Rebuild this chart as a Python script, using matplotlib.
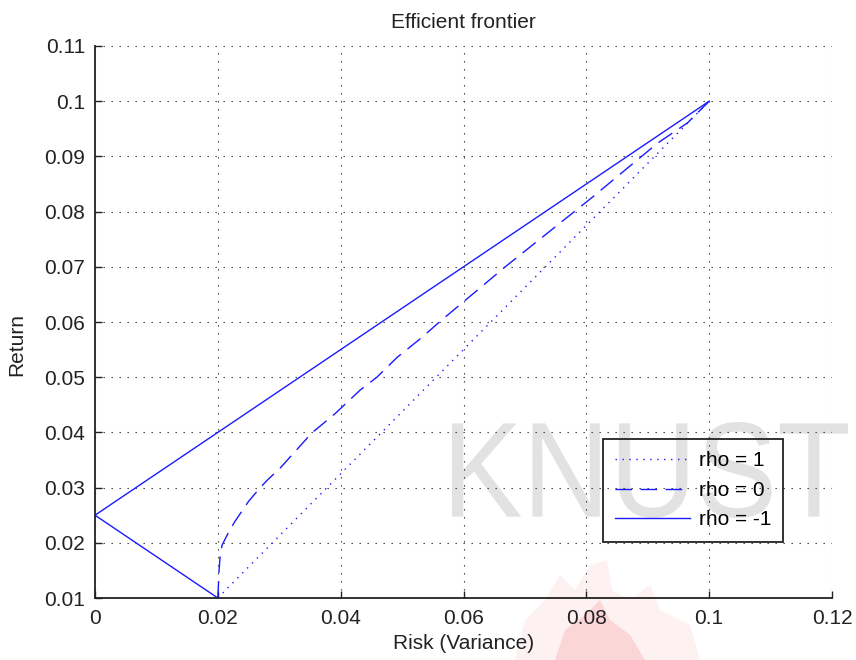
import numpy as np
import matplotlib
matplotlib.use("Agg")
from matplotlib import pyplot as plt
from matplotlib.textpath import TextPath
from matplotlib.patches import PathPatch, Polygon
from matplotlib.font_manager import FontProperties
from matplotlib.transforms import Affine2D

# efficient frontier data
rho1_risk = [0.02, 0.10]
rho1_ret = [0.01, 0.10]

rho0_risk = [0.0200, 0.0202, 0.0204, 0.0207, 0.0217, 0.0228, 0.0250, 0.0269,
             0.0281, 0.0302, 0.0353, 0.0391, 0.0432, 0.0459, 0.0492, 0.0530,
             0.0565, 0.0668, 0.0785, 0.0812, 0.0853, 0.0916, 0.0965, 0.1000]
rho0_ret = [0.0100, 0.0150, 0.0180, 0.0196, 0.0218, 0.0239, 0.0275, 0.0300,
            0.0314, 0.0336, 0.0399, 0.0434, 0.0477, 0.0500, 0.0536, 0.0570,
            0.0604, 0.0700, 0.0804, 0.0828, 0.0866, 0.0924, 0.0961, 0.1000]

rhom1_risk = [0.02, 0.0, 0.10]
rhom1_ret = [0.01, 0.025, 0.10]

x_ticks = [0, 0.02, 0.04, 0.06, 0.08, 0.1, 0.12]
x_labels = ["0", "0.02", "0.04", "0.06", "0.08", "0.1", "0.12"]
y_ticks = [0.01, 0.02, 0.03, 0.04, 0.05, 0.06, 0.07, 0.08, 0.09, 0.1, 0.11]
y_labels = ["0.01", "0.02", "0.03", "0.04", "0.05", "0.06", "0.07", "0.08",
            "0.09", "0.1", "0.11"]

W, H = 856, 660
plt.rcParams["font.family"] = ["Liberation Sans", "DejaVu Sans"]
plt.rcParams["font.size"] = 15

fig = plt.figure(figsize=(W / 100, H / 100), dpi=100)
ax = fig.add_axes([95 / W, 1 - 598 / H, 737 / W, 552 / H])
ax.set_facecolor("none")

# pixel coords (top-left origin) -> figure
px = Affine2D().scale(1 / W, -1 / H).translate(0, 1) + fig.transFigure

# KNUST watermark
tp = TextPath((0, 0), "KNUST", size=100, prop=FontProperties(family="Liberation Sans"))
ext = tp.get_extents()
tr = Affine2D().translate(-ext.x0, -ext.y0).scale(396 / ext.width, -96 / ext.height).translate(452, 518)
fig.add_artist(PathPatch(tr.transform_path(tp), transform=px, facecolor="#e2e2e2",
                         edgecolor="none", zorder=-2))

# faint flame logo at the bottom
flame_outer = [(515, 660), (525, 620), (545, 600), (560, 575), (575, 590), (590, 565),
               (607, 560), (612, 590), (630, 600), (650, 585), (660, 610), (690, 625),
               (700, 660)]
flame_inner = [(555, 660), (565, 630), (585, 615), (600, 600), (610, 620), (630, 635),
               (645, 660)]
fig.add_artist(Polygon(flame_outer, closed=True, transform=px, facecolor="#fdf1f1",
                       edgecolor="none", zorder=-3))
fig.add_artist(Polygon(flame_inner, closed=True, transform=px, facecolor="#fad6d6",
                       edgecolor="none", zorder=-3))

blue = "#1a1aff"
ax.plot(rho1_risk, rho1_ret, color=blue, lw=1.0, linestyle=(0, (1, 4)), label="rho = 1")
ax.plot(rho0_risk, rho0_ret, color=blue, lw=1.0, linestyle=(0, (12, 6)), label="rho = 0")
ax.plot(rhom1_risk, rhom1_ret, color=blue, lw=1.0, linestyle="-", label="rho = -1")

ax.set_xlim(0, 0.12)
ax.set_ylim(0.01, 0.11)
ax.set_xticks(x_ticks)
ax.set_xticklabels(x_labels)
ax.set_yticks(y_ticks)
ax.set_yticklabels(y_labels)

ax.grid(True, color="#333333", lw=0.8, linestyle=(0, (1.2, 6)))
ax.tick_params(direction="in", length=5, width=1.0, colors="#222222",
               labelsize=15, labelcolor="#222222")
ax.tick_params(axis="x", pad=8)
ax.tick_params(axis="y", pad=7)
for s in ["top", "right"]:
    ax.spines[s].set_visible(False)
for s in ["left", "bottom"]:
    ax.spines[s].set_linewidth(1.3)
    ax.spines[s].set_color("#222222")

ax.set_title("Efficient frontier", fontsize=15, pad=13, color="#222222")
ax.set_xlabel("Risk (Variance)", fontsize=15, color="#222222", labelpad=4)
ax.set_ylabel("Return", fontsize=15, color="#222222")
ax.yaxis.set_label_coords(-0.093, 0.46)

leg = ax.legend(loc="center", bbox_to_anchor=(0.8115, 0.195), fancybox=False,
                edgecolor="#222222", fontsize=15, handlelength=3.6,
                handletextpad=0.4, labelspacing=0.5, borderpad=0.6)
leg.get_frame().set_facecolor("none")
leg.get_frame().set_alpha(None)
leg.get_frame().set_linewidth(1.3)

fig.savefig("out.png", dpi=100)
